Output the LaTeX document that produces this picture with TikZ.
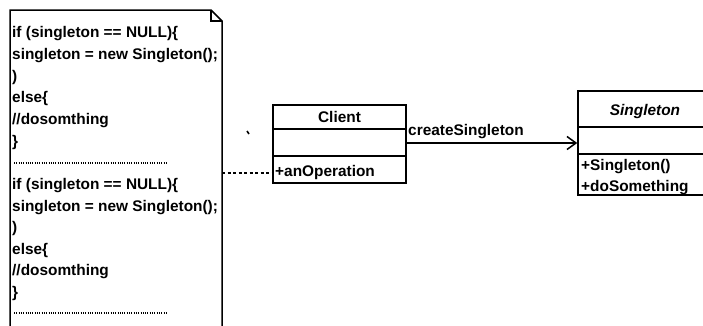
\documentclass[tikz,border=0pt]{standalone}
\usepackage{fontspec}
\setmainfont{Liberation Sans}
\usetikzlibrary{arrows.meta}
\begin{document}
\begin{tikzpicture}[x=1pt,y=-1pt,
  txt/.style={anchor=base west,inner sep=0pt,font=\fontsize{15.4}{18}\selectfont\bfseries},
  hdr/.style={inner sep=0pt,font=\fontsize{15.4}{18}\selectfont\bfseries},
  umlbox/.style={draw,line width=1.5pt,inner sep=0pt},
  ln/.style={line width=1.5pt},
  dotsep/.style={line width=1.1pt,dash pattern=on 0.9pt off 1.4pt}]
\useasboundingbox (0,0) rectangle (703,325);
% note
\coordinate (nTL) at (10,10);
\coordinate (nF1) at (211,10);
\coordinate (nF2) at (222,21);
\draw[ln,line join=miter] (10,330) -- (nTL) -- (nF1) -- (nF2) -- (222,330);
\draw[ln] (nF1) -- (211,21) -- (nF2);
% note text
\node[txt] (a1) at (12,37.5) {if (singleton == NULL)\{};
\node[txt] (a2) at (12,59) {singleton = new Singleton();};
\node[txt] (a3) at (12,81) {)};
\node[txt] (a4) at (12,102.5) {else\{};
\node[txt] (a5) at (12,124.5) {//dosomthing};
\node[txt] (a6) at (12,146) {\}};
\coordinate (d1a) at (14,163);
\coordinate (d1b) at (167,163);
\draw[dotsep] (d1a) -- (d1b);
\node[txt] (b1) at (12,189.5) {if (singleton == NULL)\{};
\node[txt] (b2) at (12,211) {singleton = new Singleton();};
\node[txt] (b3) at (12,232.5) {)};
\node[txt] (b4) at (12,254) {else\{};
\node[txt] (b5) at (12,275.5) {//dosomthing};
\node[txt] (b6) at (12,297) {\}};
\coordinate (d2a) at (14,313);
\coordinate (d2b) at (167,313);
\draw[dotsep] (d2a) -- (d2b);
% Client class
\node[umlbox,minimum width=133pt,minimum height=78pt] (client) at (339.5,144) {};
\draw[ln] (273,129) -- (406,129);
\draw[ln] (273,156) -- (406,156);
\node[hdr] (cname) at (339.5,117) {Client};
\node[txt] (cop) at (275,176.5) {+anOperation};
% Singleton class
\node[umlbox,minimum width=126pt,minimum height=104pt] (single) at (641,143) {};
\draw[ln] (578,127) -- (704,127);
\draw[ln] (578,154) -- (704,154);
\node[hdr,font=\fontsize{15.4}{18}\selectfont\bfseries\itshape] (sname) at (645,112) {Singleton};
\node[txt] (s1) at (581,170.5) {+Singleton()};
\node[txt] (s2) at (581,191.5) {+doSomething};
% connectors
\coordinate (noteR) at (222,173);
\draw[line width=1.3pt,dash pattern=on 3pt off 2.5pt] (noteR) -- (noteR -| client.west);
\draw[ln,-{Straight Barb[length=9pt,width=13pt,line width=1.5pt]}] (client.east |- 0,143) -- (single.west |- 0,143);
\node[txt,anchor=base west] (lbl) at (408,135.5) {createSingleton};
% stray mark
\draw[line width=1.6pt] (247,131) -- (249,134);
\end{tikzpicture}
\end{document}
